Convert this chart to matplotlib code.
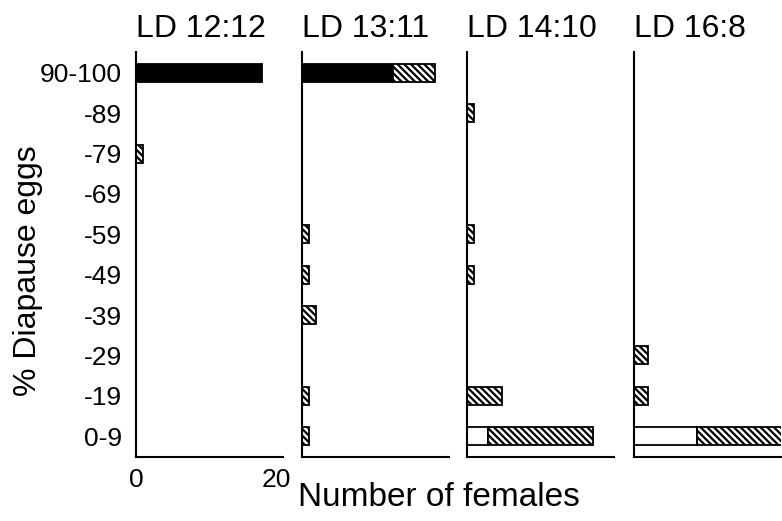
import numpy as np
import matplotlib.pyplot as plt

plt.rcParams['font.family'] = ['Liberation Sans', 'DejaVu Sans']
plt.rcParams['hatch.linewidth'] = 1.6

# categories bottom to top
categories = ['0-9', '-19', '-29', '-39', '-49', '-59', '-69', '-79', '-89', '90-100']
titles = ['LD 12:12', 'LD 13:11', 'LD 14:10', 'LD 16:8']

# number of females per class, per photoperiod
black_vals = [
    [0, 0, 0, 0, 0, 0, 0, 0, 0, 18],
    [0, 0, 0, 0, 0, 0, 0, 0, 0, 13],
    [0, 0, 0, 0, 0, 0, 0, 0, 0, 0],
    [0, 0, 0, 0, 0, 0, 0, 0, 0, 0],
]
white_vals = [
    [0, 0, 0, 0, 0, 0, 0, 0, 0, 0],
    [0, 0, 0, 0, 0, 0, 0, 0, 0, 0],
    [3, 0, 0, 0, 0, 0, 0, 0, 0, 0],
    [9, 0, 0, 0, 0, 0, 0, 0, 0, 0],
]
hatch_vals = [
    [0, 0, 0, 0, 0, 0, 0, 1, 0, 0],
    [1, 1, 0, 2, 1, 1, 0, 0, 0, 6],
    [15, 5, 0, 0, 1, 1, 0, 0, 1, 0],
    [13, 2, 2, 0, 0, 0, 0, 0, 0, 0],
]

fig = plt.figure(figsize=(7.82, 5.21), dpi=100)
lefts = [0.1739, 0.3862, 0.5972, 0.8107]
y = np.arange(len(categories))
h = 0.45

for i in range(4):
    ax = fig.add_axes([lefts[i], 0.1228, 0.188, 0.7774])
    b = np.array(black_vals[i])
    w = np.array(white_vals[i])
    s = np.array(hatch_vals[i])
    # draw only non-zero segments
    for k in range(len(categories)):
        if b[k] > 0:
            ax.barh(y[k], b[k], height=h, color='black', edgecolor='black', linewidth=1.3)
        if w[k] > 0:
            ax.barh(y[k], w[k], left=b[k], height=h, color='white', edgecolor='black', linewidth=1.3)
        if s[k] > 0:
            ax.barh(y[k], s[k], left=b[k] + w[k], height=h, color='white', edgecolor='black',
                    linewidth=1.3, hatch='\\\\\\\\\\')
    ax.set_xlim(0, 21)
    ax.set_ylim(-0.52, 9.52)
    ax.spines['top'].set_visible(False)
    ax.spines['right'].set_visible(False)
    ax.spines['left'].set_linewidth(1.5)
    ax.spines['bottom'].set_linewidth(1.5)
    ax.tick_params(length=0)
    ax.set_title(titles[i], loc='left', fontsize=23, pad=11)
    if i == 0:
        ax.set_yticks(y)
        ax.set_yticklabels(categories, fontsize=19)
        ax.tick_params(axis='y', pad=10)
        ax.set_xticks([0, 20])
        ax.set_xticklabels(['0', '20'], fontsize=19)
        ax.tick_params(axis='x', pad=8)
    else:
        ax.set_yticks([])
        ax.set_xticks([])

fig.text(0.561, 0.046, 'Number of females', fontsize=24, ha='center', va='center')
fig.text(0.036, 0.48, '% Diapause eggs', fontsize=23, rotation=90, ha='center', va='center')

fig.savefig('out.png', dpi=100)
